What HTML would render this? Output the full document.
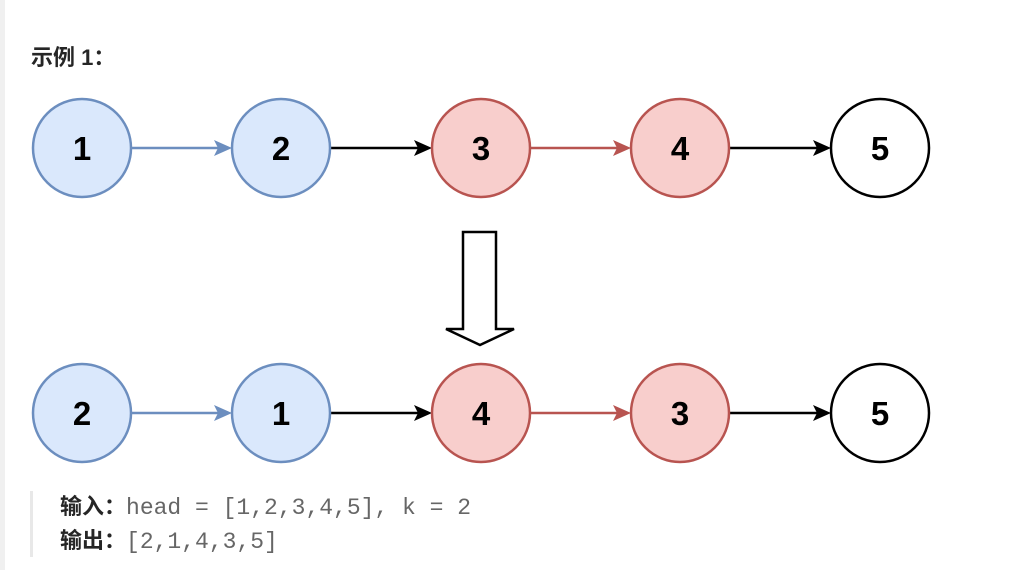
<!DOCTYPE html>
<html><head><style>
body{margin:0;width:1024px;height:570px;background:#fff;position:relative;overflow:hidden;font-family:"Liberation Sans","Noto Sans CJK SC",sans-serif;}
.strip{position:absolute;left:0;top:0;width:5px;height:570px;background:#f0f0f0}
.t{position:absolute;left:31px;top:40px;font-size:22px;font-weight:bold;color:#262626}
.bq{position:absolute;left:30px;top:491px;width:3px;height:66px;background:#e8e8e8}
.l{position:absolute;left:60px;font-size:22px;color:#262626;white-space:pre;line-height:26px}
.l b{font-weight:bold}
.l span{font-family:"Liberation Mono",monospace;color:#666;font-size:23px}
</style></head><body>
<div class="strip"></div>
<div class="t">示例 1：</div>
<svg width="1024" height="570" style="position:absolute;left:0;top:0">
<g font-family="Liberation Sans" font-weight="bold" font-size="33" text-anchor="middle" stroke-width="2.5">
<g id="r1">
<line x1="132" y1="148" x2="220" y2="148" stroke="#6c8ebf" stroke-width="2.5"/><path d="M232,148 L214,140 L218,148 L214,156z" fill="#6c8ebf"/>
<line x1="331" y1="148" x2="420" y2="148" stroke="#000" stroke-width="2.5"/><path d="M432,148 L414,140 L418,148 L414,156z" fill="#000"/>
<line x1="531" y1="148" x2="619" y2="148" stroke="#b85450" stroke-width="2.5"/><path d="M631,148 L613,140 L617,148 L613,156z" fill="#b85450"/>
<line x1="730" y1="148" x2="819" y2="148" stroke="#000" stroke-width="2.5"/><path d="M831,148 L813,140 L817,148 L813,156z" fill="#000"/>
</g>
<use href="#r1" y="265"/>
<circle cx="82" cy="148" r="49" fill="#dae8fc" stroke="#6c8ebf"/><text x="82" y="160">1</text>
<circle cx="281" cy="148" r="49" fill="#dae8fc" stroke="#6c8ebf"/><text x="281" y="160">2</text>
<circle cx="481" cy="148" r="49" fill="#f8cecc" stroke="#b85450"/><text x="481" y="160">3</text>
<circle cx="680" cy="148" r="49" fill="#f8cecc" stroke="#b85450"/><text x="680" y="160">4</text>
<circle cx="880" cy="148" r="49" fill="#fff" stroke="#000"/><text x="880" y="160">5</text>
<circle cx="82" cy="413" r="49" fill="#dae8fc" stroke="#6c8ebf"/><text x="82" y="425">2</text>
<circle cx="281" cy="413" r="49" fill="#dae8fc" stroke="#6c8ebf"/><text x="281" y="425">1</text>
<circle cx="481" cy="413" r="49" fill="#f8cecc" stroke="#b85450"/><text x="481" y="425">4</text>
<circle cx="680" cy="413" r="49" fill="#f8cecc" stroke="#b85450"/><text x="680" y="425">3</text>
<circle cx="880" cy="413" r="49" fill="#fff" stroke="#000"/><text x="880" y="425">5</text>
<path d="M463,232 L496,232 L496,329 L514,329 L480,345 L446,329 L463,329z" fill="#fff" stroke="#000" stroke-width="2.5"/>
</g>
</svg>
<div class="bq"></div>
<div class="l" style="top:494px"><b>输入：</b><span>head = [1,2,3,4,5], k = 2</span></div>
<div class="l" style="top:528px"><b>输出：</b><span>[2,1,4,3,5]</span></div>
</body></html>
